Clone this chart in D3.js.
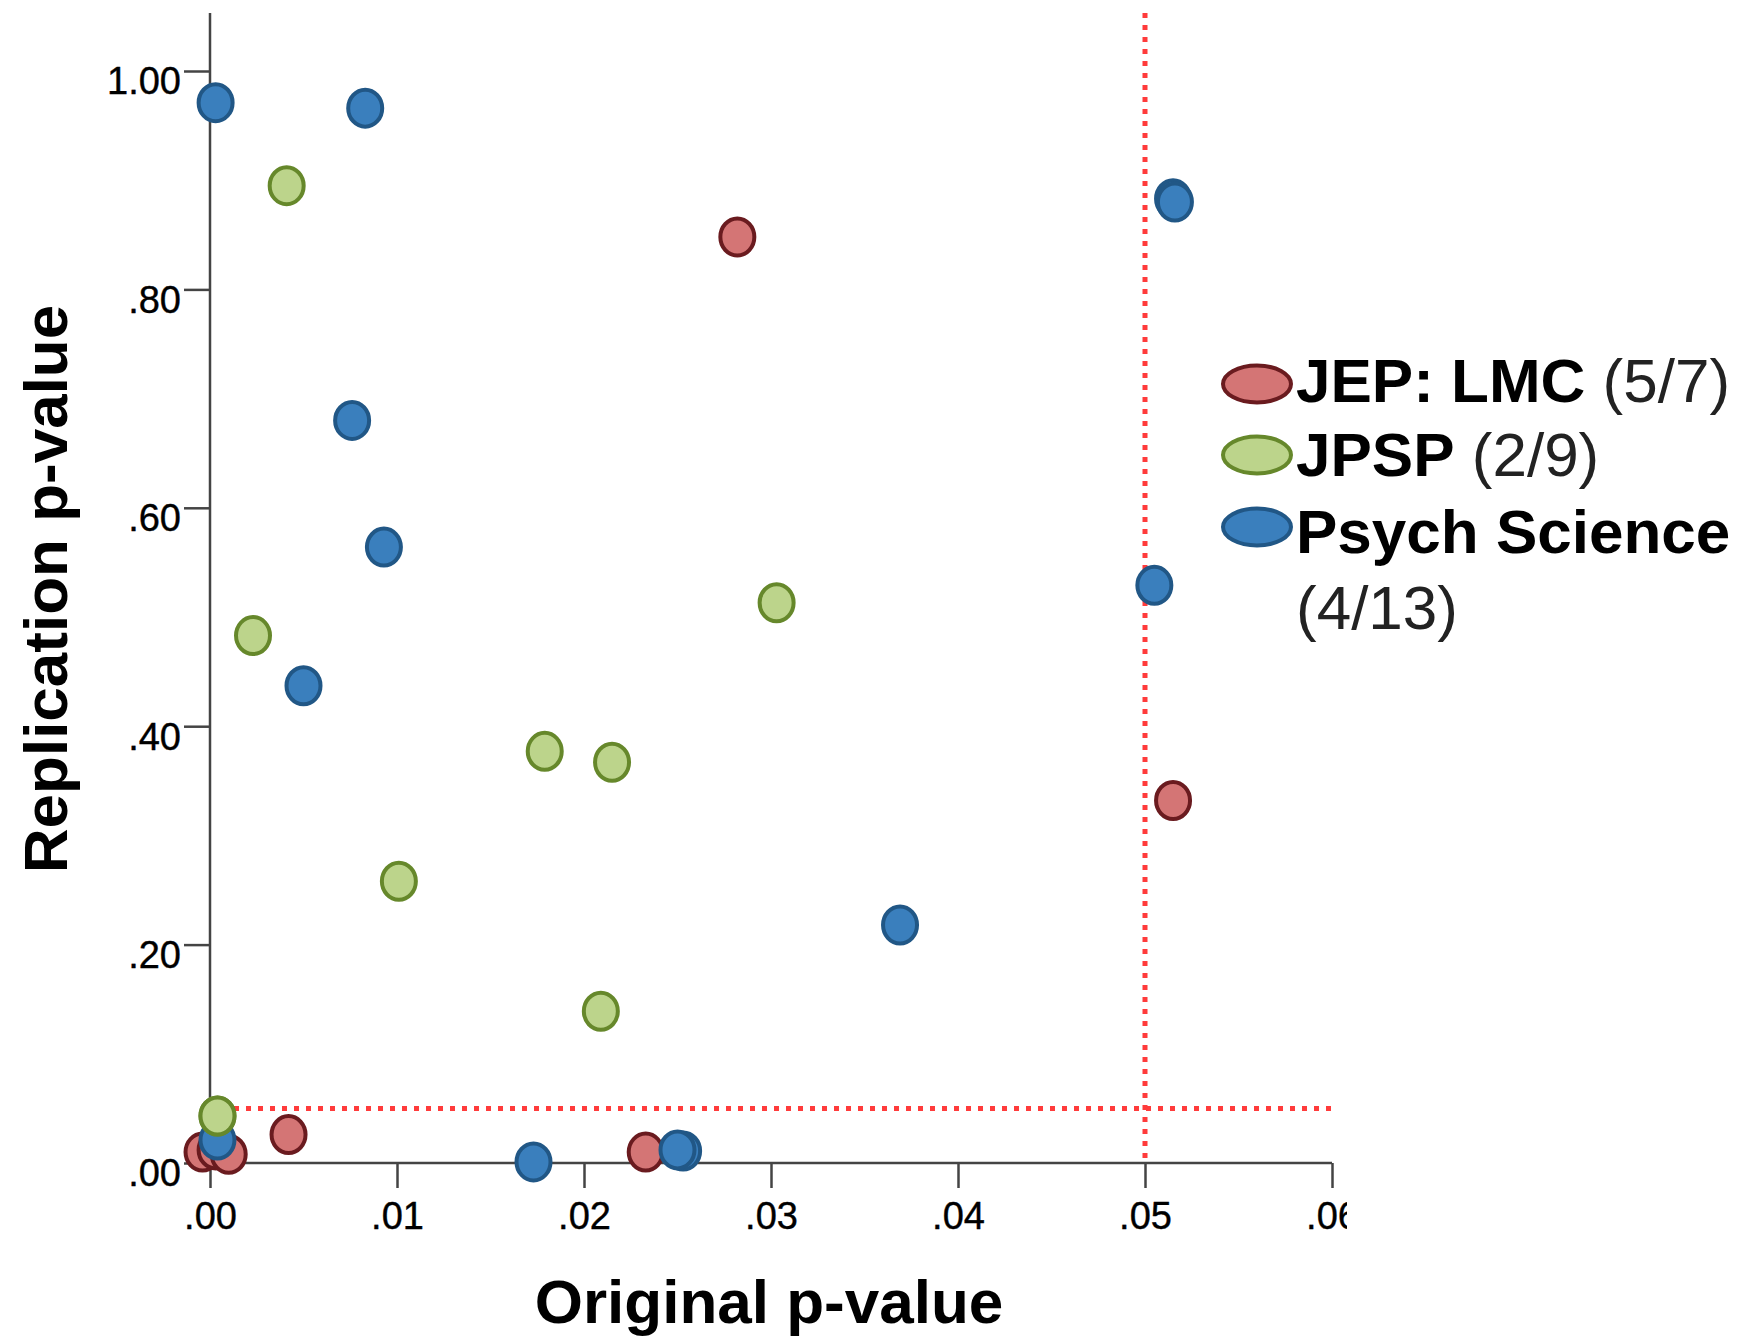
<!DOCTYPE html>
<html>
<head>
<meta charset="utf-8">
<script src="https://cdn.jsdelivr.net/npm/d3@7"></script>
<style>
  body { margin: 0; background: #fff; }
  svg { display: block; font-family: "Liberation Sans", Arial, sans-serif; }
</style>
</head>
<body>
<div id="chart"></div>
<script>
// journals, drawing order follows the original (red, then blue, then green on top)
const journals = ['JEP: LMC', 'JPSP', 'Psych Science'];
const journalCounts = ['(5/7)', '(2/9)', '(4/13)'];

// [original p, replication p]
const jepLmc = [
  [0.0282, 0.848], [0.0515, 0.332], [0.0042, 0.026], [0.0233, 0.010],
  [-0.0004, 0.010], [0.0003, 0.012], [0.0010, 0.008]
];
const jpsp = [
  [0.0041, 0.895], [0.0023, 0.483], [0.0303, 0.513], [0.0179, 0.377],
  [0.0215, 0.367], [0.0101, 0.258], [0.0209, 0.139], [0.0004, 0.043],
  [0.0004, 0.043]
];
const psychScience = [
  [0.0003, 0.971], [0.0083, 0.966], [0.0515, 0.883], [0.0516, 0.880],
  [0.0076, 0.680], [0.0093, 0.564], [0.0505, 0.529], [0.0050, 0.437],
  [0.0369, 0.218], [0.0004, 0.021], [0.0173, 0.001], [0.0253, 0.011],
  [0.0250, 0.012]
];

const xTicks = [0, 0.01, 0.02, 0.03, 0.04, 0.05, 0.06];
const yTicks = [0, 0.2, 0.4, 0.6, 0.8, 1.0];
const cutoff = 0.05;

const width = 1745, height = 1338;
const margin = { top: 13, left: 210, right: 413, bottom: 175 };

const colors = {
  'JEP: LMC': { fill: '#d47575', stroke: '#6a1b1f' },
  'JPSP': { fill: '#bcd48b', stroke: '#66882b' },
  'Psych Science': { fill: '#3a7fbd', stroke: '#215786' }
};

const svg = d3.select('#chart').append('svg')
    .attr('width', width)
    .attr('height', height);

const x = d3.scaleLinear([0, 0.06], [margin.left, width - margin.right]);
const y = d3.scaleLinear([0, 1], [1163, 71]);
const yTop = margin.top;

// axes
const xAxis = d3.axisBottom(x)
    .tickValues(xTicks)
    .tickSize(25)
    .tickSizeOuter(0)
    .tickPadding(14)
    .tickFormat(d => d3.format('.2f')(d).replace(/^0/, ''));

const yAxis = d3.axisLeft(y)
    .tickValues(yTicks)
    .tickSize(26)
    .tickSizeOuter(0)
    .tickPadding(3)
    .tickFormat(d => d === 1 ? '1.00' : d3.format('.2f')(d).replace(/^0/, ''));

svg.append('clipPath').attr('id', 'clip-x')
  .append('rect').attr('x', 0).attr('y', 0).attr('width', 1347).attr('height', height);

const gx = svg.append('g')
    .attr('clip-path', 'url(#clip-x)')
    .attr('transform', `translate(0, ${y(0)})`)
    .call(xAxis);

const gy = svg.append('g')
    .attr('transform', `translate(${x(0)}, 0)`)
    .call(yAxis);

[gx, gy].forEach(g => {
  g.select('.domain').remove();
  g.selectAll('.tick line').attr('stroke', '#444').attr('stroke-width', 2.5);
  g.selectAll('.tick text')
      .attr('fill', '#000')
      .attr('stroke', '#000')
      .attr('stroke-width', 0.4)
      .attr('font-size', 38)
      .attr('font-family', '"Liberation Sans", Arial, sans-serif');
});
gy.selectAll('.tick text').attr('dy', '0.6em');
gx.selectAll('.tick text').attr('dy', '0.71em');

// axis lines
svg.append('line')
    .attr('x1', x(0)).attr('x2', x(0))
    .attr('y1', yTop).attr('y2', y(0))
    .attr('stroke', '#444').attr('stroke-width', 2.5);
svg.append('line')
    .attr('x1', x(0)).attr('x2', x(0.06))
    .attr('y1', y(0)).attr('y2', y(0))
    .attr('stroke', '#444').attr('stroke-width', 2.5);

// reference lines at p = .05
svg.append('line')
    .attr('x1', x(0)).attr('x2', x(0.06))
    .attr('y1', y(cutoff)).attr('y2', y(cutoff))
    .attr('stroke', '#ff3b3b').attr('stroke-width', 5)
    .attr('stroke-dasharray', '5,7');
svg.append('line')
    .attr('x1', x(cutoff)).attr('x2', x(cutoff))
    .attr('y1', yTop).attr('y2', y(0))
    .attr('stroke', '#ff3b3b').attr('stroke-width', 5)
    .attr('stroke-dasharray', '5,7');

// points
const series = [
  { name: 'JEP: LMC', data: jepLmc },
  { name: 'Psych Science', data: psychScience },
  { name: 'JPSP', data: jpsp }
];

series.forEach(s => {
  svg.append('g')
    .selectAll('ellipse')
    .data(s.data)
    .join('ellipse')
      .attr('cx', d => x(d[0]))
      .attr('cy', d => y(d[1]))
      .attr('rx', 17)
      .attr('ry', 18.5)
      .attr('fill', colors[s.name].fill)
      .attr('stroke', colors[s.name].stroke)
      .attr('stroke-width', 4);
});

// axis titles
svg.append('text')
    .attr('x', 769)
    .attr('y', 1323)
    .attr('text-anchor', 'middle')
    .attr('font-size', 62)
    .attr('font-weight', 'bold')
    .text('Original p-value');

svg.append('text')
    .attr('transform', 'translate(67, 589) rotate(-90)')
    .attr('text-anchor', 'middle')
    .attr('font-size', 62)
    .attr('font-weight', 'bold')
    .text('Replication p-value');

// legend
const legendY = [384, 455, 527];
const legendBase = [402, 476, 553];
const legend = svg.append('g');
journals.forEach((name, i) => {
  legend.append('ellipse')
      .attr('cx', 1257)
      .attr('cy', legendY[i])
      .attr('rx', 34)
      .attr('ry', 18.5)
      .attr('fill', colors[name].fill)
      .attr('stroke', colors[name].stroke)
      .attr('stroke-width', 4);

  const t = legend.append('text')
      .attr('x', 1296)
      .attr('y', legendBase[i])
      .attr('font-size', 62);
  t.append('tspan').attr('font-weight', 'bold').text(name);
  if (name === 'Psych Science') {
    legend.append('text')
        .attr('x', 1296)
        .attr('y', 629)
        .attr('font-size', 62)
        .attr('fill', '#222')
        .text(journalCounts[i]);
  } else {
    t.append('tspan').attr('fill', '#222').text(' ' + journalCounts[i]);
  }
});
</script>
</body>
</html>
